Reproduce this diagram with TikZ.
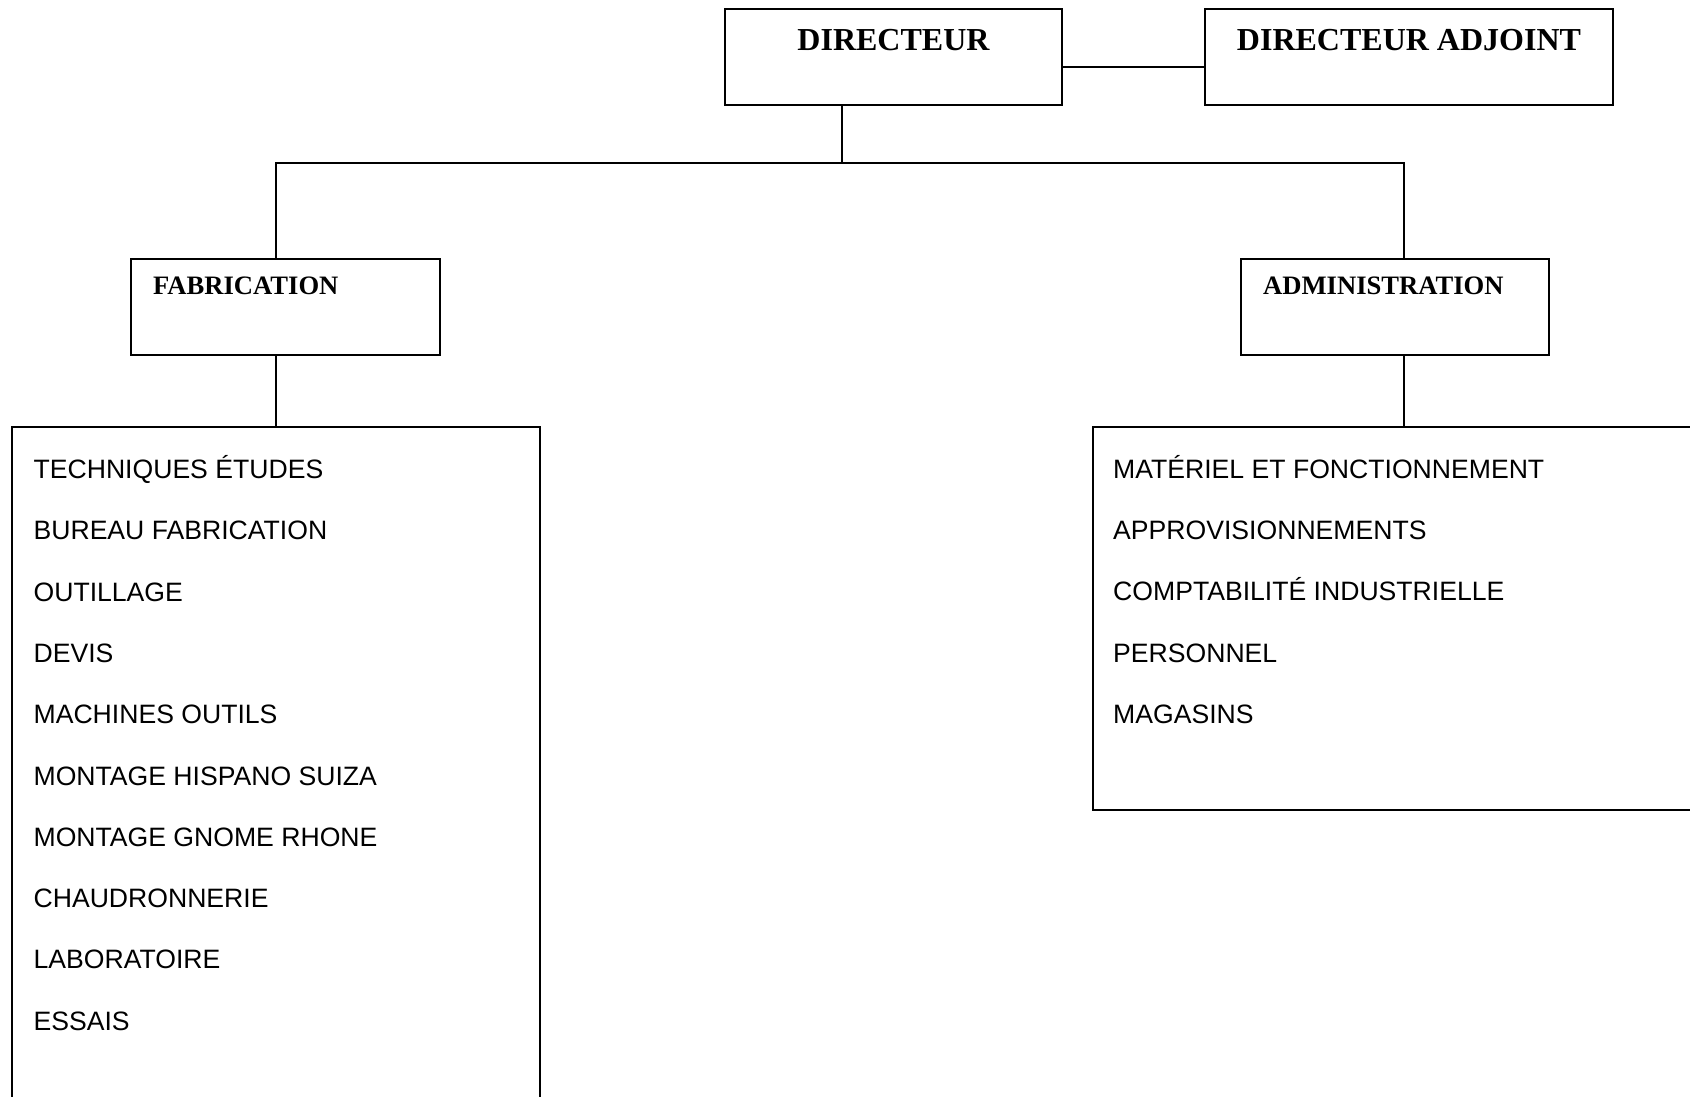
\documentclass[tikz,border=0pt]{standalone}
\usepackage{fontspec}
\setmainfont{Liberation Serif}
\newfontfamily\listfont{Liberation Sans}
\begin{document}
\begin{tikzpicture}[x=1pt,y=-1pt,
  box/.style={draw=black,line width=2pt,rectangle,inner sep=0pt,outer sep=0pt},
  conn/.style={draw=black,line width=2pt},
  bigtitle/.style={anchor=base,inner sep=0pt,font=\bfseries\fontsize{32}{36}\selectfont},
  midtitle/.style={anchor=base west,inner sep=0pt,font=\bfseries\fontsize{26.6}{30}\selectfont},
  item/.style={anchor=base west,inner sep=0pt,font=\listfont\fontsize{26.6}{30}\selectfont}]
\useasboundingbox (0,0) rectangle (1690,1096);
\clip (0,0) rectangle (1690,1096);
\fill[white] (0,0) rectangle (1690,1096);
% boxes
\node[box,minimum width=337,minimum height=96] (dir) at (893.5,57) {};
\node[box,minimum width=408,minimum height=96] (adj) at (1409,57) {};
\node[box,minimum width=309,minimum height=96] (fab) at (285.5,307) {};
\node[box,minimum width=308,minimum height=96] (adm) at (1395,307) {};
\node[box,minimum width=528,minimum height=700] (flist) at (276,777) {};
\node[box,minimum width=640,minimum height=383] (alist) at (1413,618.5) {};
% titles
\node[bigtitle] (tdir) at (893.5,50.6) {DIRECTEUR};
\node[bigtitle] (tadj) at (1409,50.6) {DIRECTEUR ADJOINT};
\node[midtitle] (tfab) at (153,294.4) {FABRICATION};
\node[midtitle] (tadm) at (1263,294.4) {ADMINISTRATION};
% connectors
\coordinate (tx) at (842,0);
\coordinate (lx) at (276,0);
\coordinate (rx) at (1404,0);
\coordinate (bar) at (0,163);
\draw[conn] ([yshift=-10pt]dir.east) -- ([yshift=-10pt]adj.west);
\draw[conn] (dir.south -| tx) -- (bar -| tx);
\draw[conn] (fab.north -| lx) -- (bar -| lx) -- (bar -| rx) -- (adm.north -| rx);
\draw[conn] (fab.south -| lx) -- (flist.north -| lx);
\draw[conn] (adm.south -| rx) -- (alist.north -| rx);
% left list
\foreach \t [count=\i from 0] in {TECHNIQUES ÉTUDES,BUREAU FABRICATION,OUTILLAGE,DEVIS,MACHINES OUTILS,MONTAGE HISPANO SUIZA,MONTAGE GNOME RHONE,CHAUDRONNERIE,LABORATOIRE,ESSAIS}
  \node[item] (f\i) at (33.4,478.5+61.3*\i) {\t};
% right list
\foreach \t [count=\i from 0] in {MATÉRIEL ET FONCTIONNEMENT,APPROVISIONNEMENTS,COMPTABILITÉ INDUSTRIELLE,PERSONNEL,MAGASINS}
  \node[item] (a\i) at (1113,478.5+61.2*\i) {\t};
\end{tikzpicture}
\end{document}
